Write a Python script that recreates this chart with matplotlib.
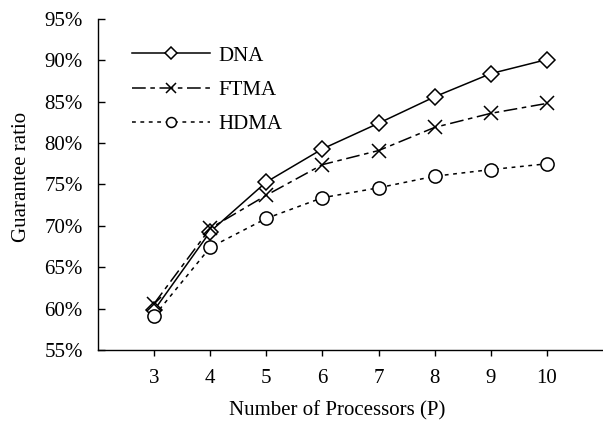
import matplotlib.pyplot as plt
from matplotlib.ticker import FuncFormatter

# Guarantee ratio (%) vs. number of processors
processors = [3, 4, 5, 6, 7, 8, 9, 10]
dna = [59.8, 69.3, 75.3, 79.3, 82.4, 85.6, 88.4, 90.1]
ftma = [60.6, 69.7, 73.7, 77.4, 79.1, 81.9, 83.6, 84.8]
hdma = [59.1, 67.4, 70.9, 73.4, 74.6, 76.0, 76.8, 77.5]
yticks = [55, 60, 65, 70, 75, 80, 85, 90, 95]

plt.rcParams['font.family'] = ['Liberation Serif', 'DejaVu Serif']
fs = 15

fig = plt.figure(figsize=(6.03, 4.25), dpi=100)
ax = fig.add_axes([0.1625, 0.1765, 0.8375, 0.7788])

ax.plot(processors, dna, color='black', lw=1.1, ls='-',
        marker='D', ms=8, mfc='white', mec='black', mew=1.1, label='DNA')
ax.plot(processors, ftma, color='black', lw=1.1, ls=(0, (9, 3, 3, 3)),
        marker='x', ms=10, mec='black', mew=1.1, label='FTMA')
ax.plot(processors, hdma, color='black', lw=1.1, ls=(0, (2.5, 3)),
        marker='o', ms=9.5, mfc='white', mec='black', mew=1.1, label='HDMA')

ax.set_xlim(2, 11)
ax.set_ylim(55, 95)
ax.set_xticks(processors)
ax.set_yticks(yticks)
ax.yaxis.set_major_formatter(FuncFormatter(lambda v, p: '%d%%' % v))

for s in ['top', 'right']:
    ax.spines[s].set_visible(False)
ax.spines['left'].set_linewidth(1)
ax.spines['bottom'].set_linewidth(1)

ax.tick_params(axis='x', direction='out', length=4, width=1, labelsize=fs, pad=10)
ax.tick_params(axis='y', direction='in', length=5, width=1, labelsize=fs, pad=11)

ax.set_xlabel('Number of Processors (P)', fontsize=fs)
ax.set_ylabel('Guarantee ratio', fontsize=fs)
ax.xaxis.set_label_coords(0.474, -0.154)
ax.yaxis.set_label_coords(-0.132, 0.523)

ax.legend(loc='upper left', bbox_to_anchor=(0.0675, 0.918), frameon=False,
          fontsize=fs, handlelength=3.75, handletextpad=0.4, labelspacing=0.7,
          borderpad=0, borderaxespad=0, markerscale=0.75)

fig.savefig('out.png', dpi=100)
